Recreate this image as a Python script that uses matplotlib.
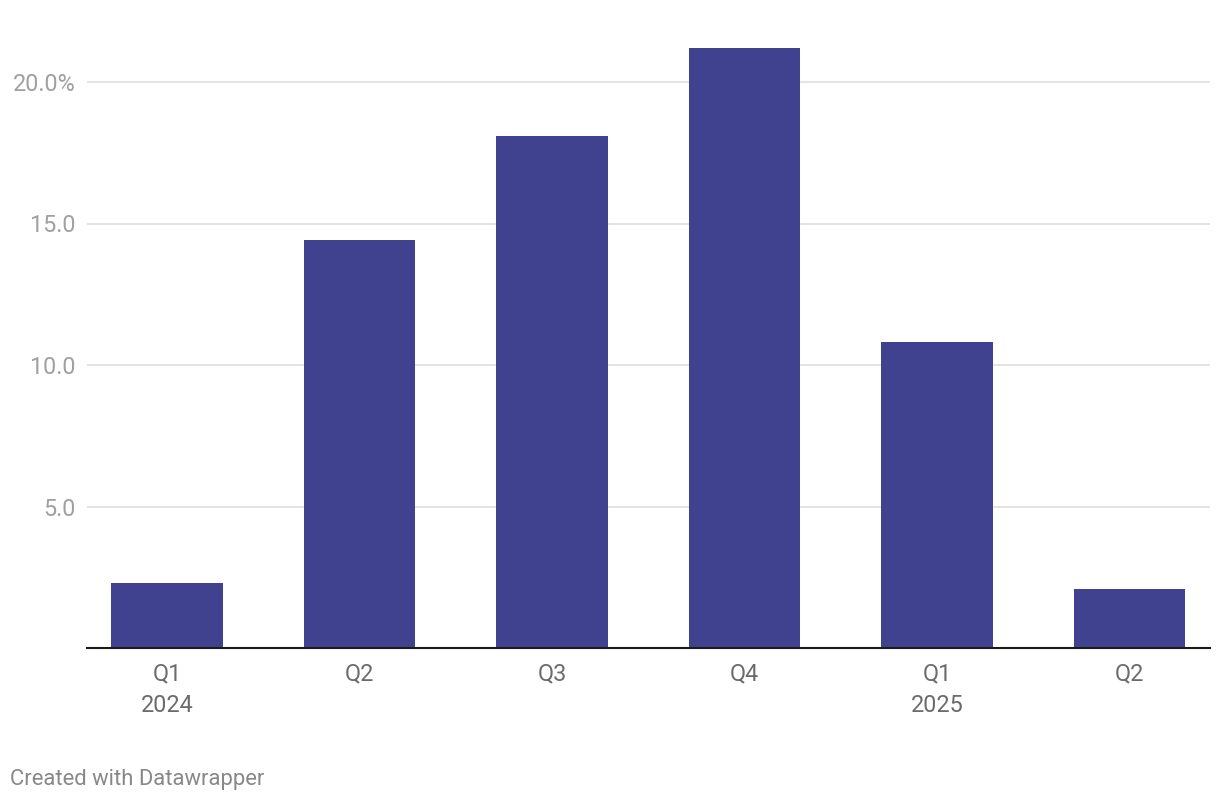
import matplotlib.pyplot as plt

plt.rcParams['font.family'] = ['Roboto', 'DejaVu Sans']

# data
quarters = ['Q1\n2024', 'Q2', 'Q3', 'Q4', 'Q1\n2025', 'Q2']
values = [2.3, 14.42, 18.09, 21.2, 10.81, 2.08]
yticks = [5, 10, 15, 20]
ytick_labels = ['5.0', '10.0', '15.0', '20.0%']

fig = plt.figure(figsize=(12.2, 8), dpi=100)
ax = fig.add_axes([87 / 1220, 1 - 648 / 800, (1210 - 87) / 1220, 623 / 800])

x = range(len(values))
ax.bar(x, values, width=0.58, color='#404290', zorder=2)

ax.set_xlim(-0.4156, 5.418)
ax.set_ylim(0, 623 / 28.3)

ax.set_yticks(yticks)
ax.set_yticklabels(ytick_labels)
ax.set_xticks(list(x))
ax.set_xticklabels(quarters, linespacing=1.5)

ax.grid(axis='y', color='#e3e3e3', linewidth=1.4, zorder=0)
ax.tick_params(axis='y', length=0, pad=8, labelsize=16.8, labelcolor='#a0a0a0')
ax.tick_params(axis='x', length=0, pad=10, labelsize=16.8, labelcolor='#6b6b6b')

for s in ['top', 'right', 'left']:
    ax.spines[s].set_visible(False)
ax.spines['bottom'].set_color('#1a1a1a')
ax.spines['bottom'].set_linewidth(1.5)
ax.spines['bottom'].set_zorder(3)

fig.text(10 / 1220, 1 - 779 / 800, 'Created with Datawrapper', fontsize=15.8,
         color='#888888', va='center', ha='left')

fig.savefig('out.png', dpi=100, facecolor='white')
